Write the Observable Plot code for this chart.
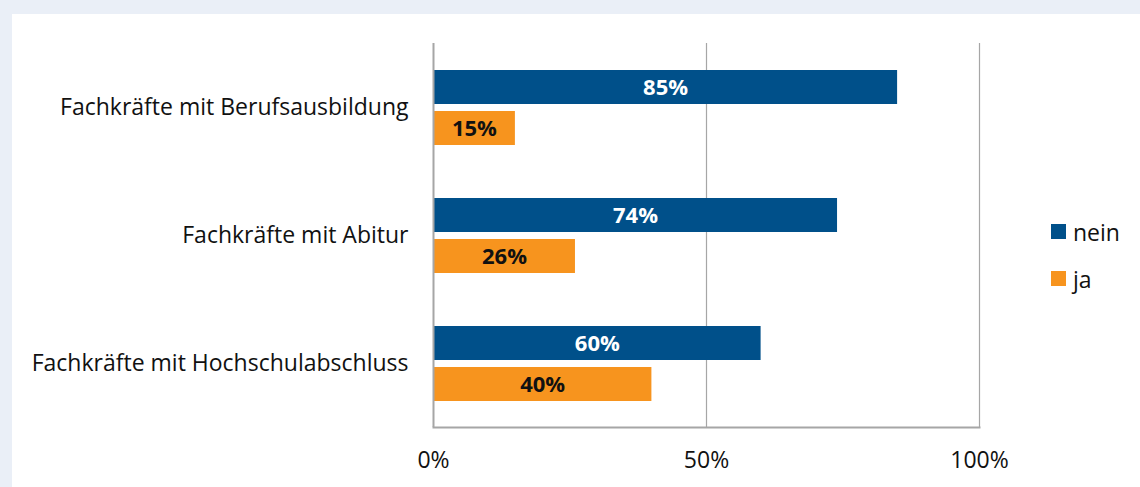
<!DOCTYPE html>
<html>
<head>
<meta charset="utf-8">
<script src="https://cdn.jsdelivr.net/npm/d3@7"></script>
<script src="https://cdn.jsdelivr.net/npm/@observablehq/plot@0.6"></script>
<style>
  html, body { margin: 0; padding: 0; background: #eaeff7; width: 1140px; height: 487px; overflow: hidden; }
  #panel { position: absolute; left: 12px; top: 14px; width: 1128px; height: 473px; background: #fff; }
  #legend { position: absolute; left: 1039px; top: 194px; font-family: "Open Sans", sans-serif; font-size: 23px; color: #111; }
  .item { display: flex; align-items: center; height: 47px; }
  .sw { width: 15px; height: 15px; margin-right: 7px; }
</style>
</head>
<body>
<div id="panel"></div>
<script>
const categories = ["Fachkräfte mit Berufsausbildung", "Fachkräfte mit Abitur", "Fachkräfte mit Hochschulabschluss"];
const neinValues = [0.85, 0.74, 0.60];
const jaValues = [0.15, 0.26, 0.40];
const seriesNames = ["nein", "ja"];
const seriesColors = ["#00508a", "#f7941e"];
const xTicks = [0, 0.5, 1];

const rows = categories.map((c, i) => ({category: c, nein: neinValues[i], ja: jaValues[i]}));
const pct = v => Math.round(v * 100) + "%";

const chart = Plot.plot({
  width: 1128,
  height: 473,
  marginLeft: 421,
  marginRight: 161,
  marginTop: 29,
  marginBottom: 60,
  style: {fontFamily: "Open Sans, sans-serif", fontSize: "23px", color: "#111", background: "#fff"},
  x: {domain: [0, 1], ticks: xTicks, tickFormat: d => Math.round(d * 100) + "%", tickSize: 0, tickPadding: 24, label: null},
  y: {domain: categories, padding: 0, tickSize: 0, tickPadding: 25, label: null},
  marks: [
    Plot.ruleX(xTicks.slice(1), {stroke: "#a6a6a6", strokeWidth: 1.2}),
    Plot.frame({anchor: "bottom", stroke: "#a6a6a6", strokeWidth: 2}),
    Plot.barX(rows, {x: "nein", y: "category", fill: seriesColors[0], insetTop: 27, insetBottom: 67}),
    Plot.barX(rows, {x: "ja", y: "category", fill: seriesColors[1], insetTop: 68, insetBottom: 26}),
    Plot.ruleX([0], {stroke: "#a6a6a6", strokeWidth: 2}),
    Plot.text(rows, {x: d => d.nein / 2, y: "category", text: d => pct(d.nein), dy: -20, fill: "#fff", fontWeight: "bold", fontSize: 22}),
    Plot.text(rows, {x: d => d.ja / 2, y: "category", text: d => pct(d.ja), dy: 21, fill: "#111", fontWeight: "bold", fontSize: 22})
  ]
});
document.getElementById("panel").appendChild(chart);

const legend = document.createElement("div");
legend.id = "legend";
seriesNames.forEach((name, i) => {
  const item = document.createElement("div");
  item.className = "item";
  const sw = document.createElement("div");
  sw.className = "sw";
  sw.style.background = seriesColors[i];
  const label = document.createElement("span");
  label.textContent = name;
  item.appendChild(sw);
  item.appendChild(label);
  legend.appendChild(item);
});
document.getElementById("panel").appendChild(legend);
</script>
</body>
</html>
